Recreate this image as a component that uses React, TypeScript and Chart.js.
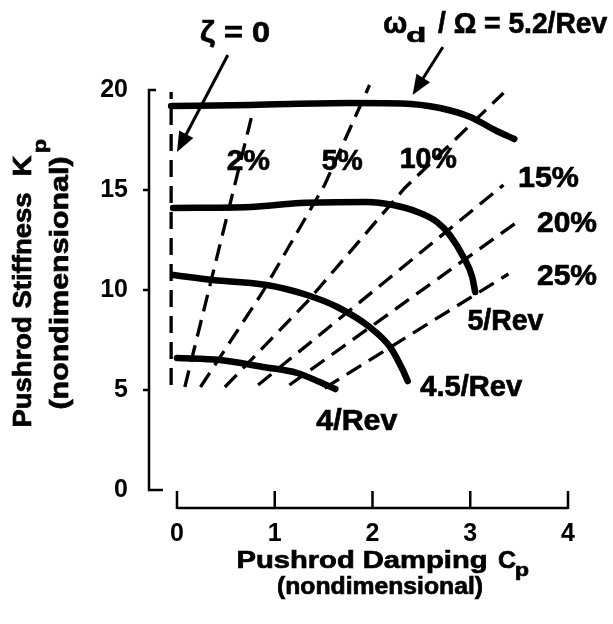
import React, { useEffect, useRef } from "react";
import { Chart, registerables } from "chart.js";

Chart.register(...registerables);

// ---- axis ticks ----
const xTickValues = [0, 1, 2, 3, 4];
const yTickValues = [0, 5, 10, 15, 20];

// ---- omega_d / Omega curves (solid) ----
const rev52X = [-0.06, 0.75, 1.77, 2.3, 2.69, 3.0, 3.27, 3.45];
const rev52Y = [19.2, 19.25, 19.35, 19.33, 19.1, 18.65, 17.95, 17.55];
const rev5X = [-0.04, 0.75, 1.26, 1.94, 2.21, 2.46, 2.66, 2.79, 2.93, 3.02, 3.05];
const rev5Y = [14.1, 14.15, 14.35, 14.4, 14.25, 13.9, 13.4, 12.75, 11.65, 10.65, 9.9];
const rev45X = [-0.04, 0.37, 0.92, 1.33, 1.64, 1.97, 2.18, 2.31, 2.36];
const rev45Y = [10.75, 10.5, 10.25, 9.75, 9.15, 8.15, 7.15, 6.0, 5.45];
const rev4X = [0.0, 0.44, 0.88, 1.23, 1.46, 1.62];
const rev4Y = [6.6, 6.5, 6.15, 5.85, 5.4, 5.05];

// ---- damping ratio lines (dashed) ----
const zeta0X = [-0.06, -0.06];
const zeta0Y = [5.25, 19.9];
const zeta2X = [0.08, 0.78];
const zeta2Y = [5.15, 19.0];
const zeta5X = [0.24, 0.87, 1.51, 1.97];
const zeta5Y = [5.15, 9.85, 15.25, 20.25];
const zeta10X = [0.49, 1.33, 2.33, 3.34];
const zeta10Y = [5.15, 9.4, 15.1, 19.85];
const zeta15X = [0.83, 3.34];
const zeta15Y = [5.25, 15.25];
const zeta20X = [1.15, 3.48];
const zeta20Y = [5.25, 13.4];
const zeta25X = [1.51, 3.39];
const zeta25Y = [5.1, 10.8];

// ---- in-plot labels (text, anchor in data units, fitted width px) ----
const curveLabels = [
  { text: "2%", x: 0.73, y: 16.4, w: 43 },
  { text: "5%", x: 1.69, y: 16.4, w: 41 },
  { text: "10%", x: 2.57, y: 16.5, w: 57 },
  { text: "15%", x: 3.8, y: 15.55, w: 61 },
  { text: "20%", x: 3.99, y: 13.3, w: 60 },
  { text: "25%", x: 3.99, y: 10.65, w: 60 },
  { text: "5/Rev", x: 3.36, y: 8.4, w: 76 },
  { text: "4.5/Rev", x: 3.01, y: 5.1, w: 102 },
  { text: "4/Rev", x: 1.84, y: 3.4, w: 81 },
];

const FONT = '"Liberation Sans", Arial, Helvetica, sans-serif';

function pts(xs: number[], ys: number[]) {
  return xs.map((x, i) => ({ x, y: ys[i] }));
}

function txt(
  ctx: CanvasRenderingContext2D,
  s: string,
  x: number,
  y: number,
  size: number,
  width?: number,
  align: CanvasTextAlign = "center",
  baseline: CanvasTextBaseline = "middle",
  rotate = false
) {
  ctx.save();
  ctx.translate(x, y);
  if (rotate) ctx.rotate(-Math.PI / 2);
  ctx.font = `bold ${size}px ${FONT}`;
  ctx.textAlign = align;
  ctx.textBaseline = baseline;
  if (width) {
    const w = ctx.measureText(s).width;
    if (w > 0) ctx.scale(width / w, 1);
  }
  ctx.fillText(s, 0, 0);
  ctx.lineWidth = 0.7;
  ctx.strokeText(s, 0, 0);
  ctx.restore();
}

function arrow(
  ctx: CanvasRenderingContext2D,
  x1: number,
  y1: number,
  x2: number,
  y2: number,
  lw: number,
  headLen: number,
  headW: number
) {
  const a = Math.atan2(y2 - y1, x2 - x1);
  const bx = x2 - headLen * Math.cos(a);
  const by = y2 - headLen * Math.sin(a);
  ctx.lineWidth = lw;
  ctx.beginPath();
  ctx.moveTo(x1, y1);
  ctx.lineTo(bx + 2 * Math.cos(a), by + 2 * Math.sin(a));
  ctx.stroke();
  ctx.beginPath();
  ctx.moveTo(x2, y2);
  ctx.lineTo(bx + headW * Math.sin(a), by - headW * Math.cos(a));
  ctx.lineTo(bx - headW * Math.sin(a), by + headW * Math.cos(a));
  ctx.closePath();
  ctx.fill();
}

const overlayPlugin = {
  id: "overlay",
  afterDraw(chart: any) {
    const ctx: CanvasRenderingContext2D = chart.ctx;
    const xs = chart.scales.x;
    const ys = chart.scales.y;
    const X = (v: number) => xs.getPixelForValue(v);
    const Y = (v: number) => ys.getPixelForValue(v);
    const { left, bottom } = chart.chartArea;
    const yMax = yTickValues[yTickValues.length - 1];
    const xMax = xTickValues[xTickValues.length - 1];

    ctx.save();
    ctx.strokeStyle = "#000";
    ctx.fillStyle = "#000";
    ctx.lineCap = "butt";
    ctx.lineJoin = "miter";

    // y axis (detached)
    ctx.lineWidth = 2.5;
    ctx.beginPath();
    ctx.moveTo(left + 7, Y(yMax));
    ctx.lineTo(left, Y(yMax));
    ctx.lineTo(left, Y(0));
    ctx.lineTo(left + 14, Y(0));
    yTickValues
      .filter((v) => v > 0 && v < yMax)
      .forEach((v) => {
        ctx.moveTo(left - 6, Y(v));
        ctx.lineTo(left + 1, Y(v));
      });
    ctx.stroke();

    // x axis (detached)
    ctx.beginPath();
    ctx.moveTo(X(0), bottom);
    ctx.lineTo(X(xMax), bottom);
    xTickValues.forEach((v) => {
      ctx.moveTo(X(v), bottom + 1);
      ctx.lineTo(X(v), bottom - 17);
    });
    ctx.stroke();

    // in-plot labels
    curveLabels.forEach((l) => txt(ctx, l.text, X(l.x), Y(l.y), 29, l.w));

    // zeta = 0 label and arrow
    txt(ctx, "ζ = 0", X(0.235), Y(22.4), 29, 70, "left", "alphabetic");
    arrow(ctx, X(0.52), Y(21.75), X(0.0), Y(16.9), 3, 20, 8);

    // omega_d / Omega = 5.2/Rev label and arrow
    txt(ctx, "ω", X(2.11), Y(22.85), 29, 24, "left", "alphabetic");
    txt(ctx, "d", X(2.345), Y(22.4), 21, 20, "left", "alphabetic");
    txt(ctx, " / Ω = 5.2/Rev", X(2.59), Y(22.85), 29, 177, "left", "alphabetic");
    arrow(ctx, X(2.72), Y(22.15), X(2.41), Y(19.75), 3, 20, 8);

    // x axis title
    txt(ctx, "Pushrod Damping", 362, 561, 24, 251);
    txt(ctx, "C", 498, 561, 24, 18, "left");
    txt(ctx, "p", 515, 571, 19, 14, "left");
    txt(ctx, "(nondimensional)", 380, 587, 24, 206);

    // y axis title
    txt(ctx, "Pushrod Stiffness", 24, 310, 25, 235, "center", "middle", true);
    txt(ctx, "K", 24, 166, 25, 21, "center", "middle", true);
    txt(ctx, "p", 41, 146, 19, 14, "center", "middle", true);
    txt(ctx, "(nondimensional)", 61, 283, 25, 253, "center", "middle", true);

    ctx.restore();
  },
};

export default function App() {
  const ref = useRef<HTMLCanvasElement>(null);

  useEffect(() => {
    const canvas = ref.current;
    if (!canvas) return;

    const solid = (label: string, xs: number[], ys: number[]) => ({
      label,
      data: pts(xs, ys),
      borderColor: "#000",
      backgroundColor: "#000",
      borderWidth: 6.5,
      cubicInterpolationMode: "monotone" as const,
      pointRadius: 0,
      fill: false,
      borderCapStyle: "round" as const,
      borderJoinStyle: "round" as const,
    });
    const dashed = (label: string, xs: number[], ys: number[]) => ({
      label,
      data: pts(xs, ys),
      borderColor: "#000",
      backgroundColor: "#000",
      borderWidth: 3.3,
      borderDash: [17, 9],
      tension: 0,
      pointRadius: 0,
      fill: false,
      borderCapStyle: "butt" as const,
    });

    const tickFont = { family: FONT, size: 25, weight: "bold" as const };

    const chart = new Chart(canvas, {
      type: "line",
      data: {
        datasets: [
          solid("5.2/Rev", rev52X, rev52Y),
          solid("5/Rev", rev5X, rev5Y),
          solid("4.5/Rev", rev45X, rev45Y),
          solid("4/Rev", rev4X, rev4Y),
          dashed("ζ = 0", zeta0X, zeta0Y),
          dashed("2%", zeta2X, zeta2Y),
          dashed("5%", zeta5X, zeta5Y),
          dashed("10%", zeta10X, zeta10Y),
          dashed("15%", zeta15X, zeta15Y),
          dashed("20%", zeta20X, zeta20Y),
          dashed("25%", zeta25X, zeta25Y),
        ],
      },
      options: {
        animation: false,
        responsive: false,
        layout: { padding: { top: 80, left: 0, right: 45, bottom: 0 } },
        plugins: {
          legend: { display: false },
          tooltip: { enabled: false },
        },
        scales: {
          x: {
            type: "linear",
            bounds: "data",
            min: -0.2864,
            max: 4,
            grid: { display: false, drawTicks: false, tickLength: 0 },
            border: { display: false },
            ticks: { font: tickFont, color: "#000", padding: 11, maxRotation: 0 },
            afterBuildTicks: (s: any) => {
              s.ticks = xTickValues.map((v) => ({ value: v }));
            },
            afterFit: (s: any) => {
              s.height = 116;
            },
          },
          y: {
            type: "linear",
            bounds: "data",
            min: -0.9,
            max: 20.5,
            grid: { display: false, drawTicks: false, tickLength: 0 },
            border: { display: false },
            ticks: { font: tickFont, color: "#000", padding: 21 },
            afterBuildTicks: (s: any) => {
              s.ticks = yTickValues.map((v) => ({ value: v }));
            },
            afterFit: (s: any) => {
              s.width = 149;
            },
          },
        },
      } as any,
      plugins: [overlayPlugin],
    });

    return () => chart.destroy();
  }, []);

  return (
    <canvas
      ref={ref}
      width={613}
      height={624}
      style={{
        position: "fixed",
        left: 0,
        top: 0,
        width: 613,
        height: 624,
        background: "#fff",
        display: "block",
      }}
    />
  );
}
